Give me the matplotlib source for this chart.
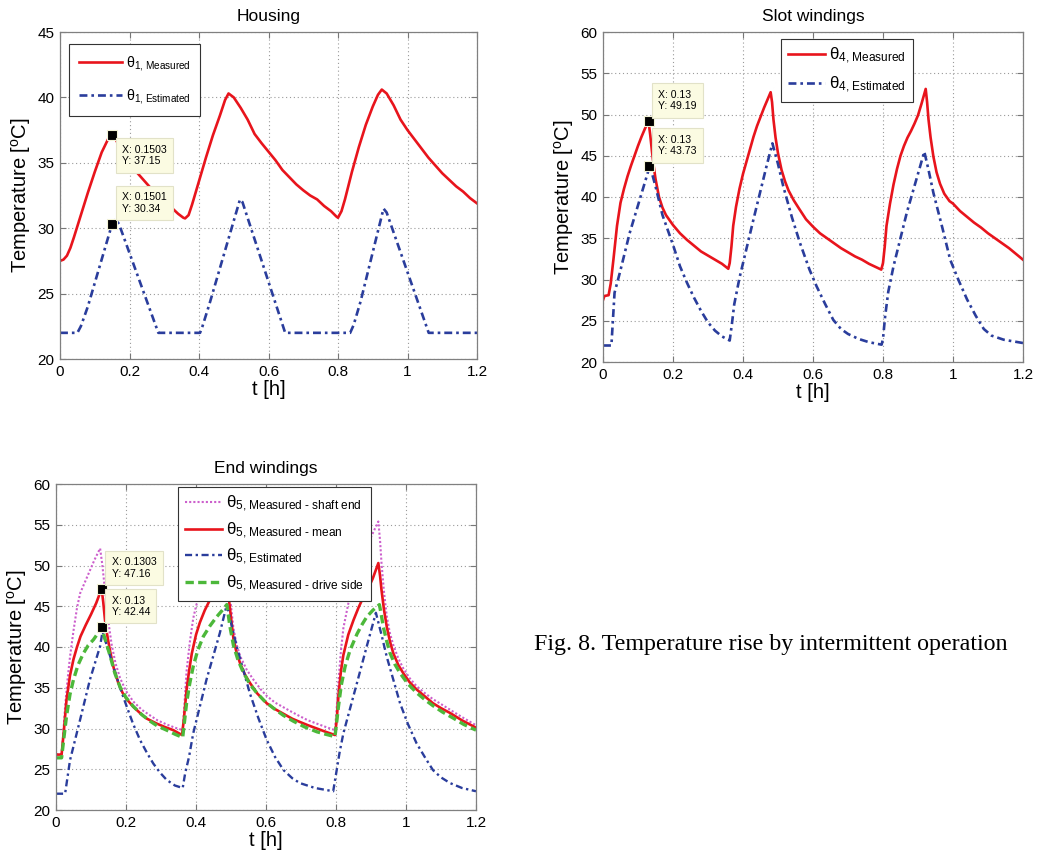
import matplotlib
matplotlib.use("Agg")
import matplotlib.pyplot as plt
from matplotlib.ticker import FuncFormatter

plt.rcParams['font.family'] = ['Liberation Sans', 'DejaVu Sans']
plt.rcParams['mathtext.fontset'] = 'custom'
plt.rcParams['mathtext.rm'] = 'Liberation Sans'
plt.rcParams['mathtext.it'] = 'Liberation Sans:italic'
plt.rcParams['mathtext.bf'] = 'Liberation Sans:bold'

# ---------------- data ----------------
# Housing
h_meas_t = [0, 0.01, 0.02, 0.03, 0.04, 0.06, 0.08, 0.10, 0.12, 0.14, 0.1503,
            0.16, 0.18, 0.20, 0.22, 0.24, 0.26, 0.28, 0.30, 0.32, 0.34, 0.355, 0.36,
            0.37, 0.38, 0.40, 0.42, 0.44, 0.46, 0.475, 0.485,
            0.50, 0.52, 0.54, 0.56, 0.58, 0.60, 0.62, 0.64, 0.66, 0.68, 0.70, 0.72, 0.74, 0.76, 0.78,
            0.795, 0.80, 0.81, 0.82, 0.84, 0.86, 0.88, 0.90, 0.915, 0.926,
            0.94, 0.96, 0.98, 1.0, 1.02, 1.04, 1.06, 1.08, 1.10, 1.12, 1.14, 1.16, 1.18, 1.2]
h_meas_v = [27.5, 27.6, 27.9, 28.5, 29.3, 31.0, 32.7, 34.3, 35.8, 36.9, 37.15,
            36.8, 35.8, 35.0, 34.3, 33.7, 33.1, 32.5, 32.0, 31.6, 31.1, 30.8, 30.75,
            31.0, 31.8, 33.6, 35.4, 37.1, 38.6, 39.8, 40.3,
            40.0, 39.2, 38.3, 37.2, 36.5, 35.85, 35.2, 34.45, 33.9, 33.35, 32.9, 32.5, 32.2, 31.7, 31.3,
            30.9, 30.8, 31.3, 32.2, 34.3, 36.2, 37.9, 39.3, 40.2, 40.6,
            40.3, 39.4, 38.3, 37.5, 36.8, 36.1, 35.4, 34.8, 34.2, 33.7, 33.2, 32.8, 32.3, 31.9]
h_est_t = [0, 0.05, 0.06, 0.08, 0.1501, 0.16, 0.17, 0.283, 0.403, 0.41, 0.43, 0.518, 0.525, 0.648,
           0.835, 0.845, 0.865, 0.931, 0.94, 1.061, 1.2]
h_est_v = [22, 22, 22.5, 24.0, 30.34, 30.7, 30.3, 22, 22, 22.5, 24.2, 32.2, 32.0, 22,
           22, 22.6, 24.4, 31.5, 31.2, 22, 22]

# Slot windings
s_meas_t = [0, 0.004, 0.016, 0.022, 0.03, 0.04, 0.05, 0.06, 0.07, 0.08, 0.09, 0.10, 0.11, 0.12, 0.13,
            0.135, 0.14, 0.145, 0.15, 0.16, 0.17, 0.18, 0.19, 0.20, 0.22, 0.24, 0.26, 0.28, 0.30,
            0.32, 0.34, 0.358,
            0.362, 0.367, 0.372, 0.38, 0.39, 0.40, 0.41, 0.42, 0.43, 0.44, 0.45, 0.46, 0.47, 0.479,
            0.483, 0.487, 0.493, 0.50, 0.51, 0.52, 0.53, 0.545, 0.56, 0.58, 0.60, 0.62, 0.64, 0.66,
            0.68, 0.70, 0.72, 0.74, 0.76, 0.78, 0.795,
            0.80, 0.805, 0.81, 0.82, 0.83, 0.84, 0.85, 0.86, 0.87, 0.88, 0.89, 0.90, 0.91, 0.922,
            0.926, 0.93, 0.936, 0.944, 0.953, 0.963, 0.975, 0.99, 1.0, 1.02, 1.04, 1.06, 1.08, 1.10,
            1.12, 1.14, 1.16, 1.18, 1.2]
s_meas_v = [27.5, 28.0, 28.1, 29.5, 32.5, 36.5, 39.3, 41.0, 42.5, 43.8, 45.0, 46.2, 47.3, 48.3, 49.19,
            47.5, 45.5, 43.7, 42.2, 40.0, 38.7, 37.8, 37.2, 36.6, 35.6, 34.8, 34.1, 33.4, 32.9,
            32.4, 31.9, 31.3,
            32.0, 34.0, 36.5, 38.8, 41.0, 42.8, 44.3, 45.8, 47.3, 48.6, 49.7, 50.8, 51.8, 52.7,
            51.5, 49.4, 47.2, 45.3, 43.3, 41.9, 40.8, 39.6, 38.6, 37.3, 36.4, 35.6, 35.0, 34.4,
            33.8, 33.3, 32.8, 32.4, 31.9, 31.5, 31.2,
            32.0, 34.0, 36.5, 39.2, 41.5, 43.4, 45.0, 46.2, 47.2, 48.0, 48.9, 49.9, 51.3, 53.1,
            51.5, 49.4, 47.2, 44.9, 43.0, 41.6, 40.4, 39.5, 39.2, 38.3, 37.6, 36.9, 36.3, 35.6,
            35.0, 34.4, 33.8, 33.1, 32.4]
s_est_t = [0, 0.024, 0.033, 0.048, 0.076, 0.105, 0.134, 0.15, 0.17, 0.2, 0.22, 0.24, 0.26, 0.28,
           0.30, 0.32, 0.34, 0.362,
           0.368, 0.375, 0.39, 0.43, 0.467, 0.484, 0.50, 0.515, 0.54, 0.563, 0.59, 0.61, 0.635,
           0.658, 0.68, 0.70, 0.73, 0.76, 0.796,
           0.80, 0.806, 0.815, 0.83, 0.868, 0.906, 0.918, 0.93, 0.944, 0.97, 0.992, 1.015, 1.04,
           1.065, 1.088, 1.11, 1.145, 1.2]
s_est_v = [22, 22, 28.4, 30.8, 35.6, 39.7, 43.8, 41.3, 37.8, 34.2, 31.6, 29.6, 27.8, 26.2,
           24.8, 23.8, 23.1, 22.6,
           24.5, 27.0, 30.2, 37.3, 43.7, 46.5, 44.0, 41.3, 37.5, 34.4, 31.2, 29.2, 27.0,
           25.1, 24.0, 23.4, 22.8, 22.4, 22.1,
           22.8, 25.5, 28.5, 31.6, 38.1, 43.7, 45.5, 43.3, 40.5, 36.2, 32.4, 30.0, 27.6,
           25.6, 24.0, 23.2, 22.7, 22.3]

# End windings
e_shaft_t = [0, 0.016, 0.021, 0.026, 0.033, 0.04, 0.05, 0.06, 0.069, 0.083, 0.097, 0.11, 0.126,
             0.132, 0.14, 0.15, 0.159, 0.17, 0.183, 0.2, 0.221, 0.245, 0.269, 0.29, 0.316, 0.34, 0.362,
             0.367, 0.373, 0.382, 0.392, 0.40, 0.411, 0.43, 0.45, 0.482,
             0.49, 0.495, 0.507, 0.516, 0.526, 0.545, 0.564, 0.585, 0.602, 0.625, 0.65, 0.675, 0.697,
             0.72, 0.745, 0.77, 0.797,
             0.802, 0.807, 0.814, 0.821, 0.835, 0.85, 0.865, 0.878, 0.9, 0.921,
             0.926, 0.93, 0.937, 0.945, 0.954, 0.964, 0.978, 0.992, 1.01, 1.03, 1.055, 1.077, 1.1,
             1.126, 1.16, 1.2]
e_shaft_v = [26.8, 26.9, 29.5, 32.7, 36.0, 38.8, 42.0, 44.8, 46.6, 48.0, 49.4, 50.7, 52.1,
             50.2, 47.0, 43.0, 40.3, 38.0, 36.2, 34.6, 33.3, 32.3, 31.6, 31.0, 30.5, 30.1, 29.8,
             33.0, 37.0, 40.5, 43.5, 45.0, 46.6, 48.5, 50.3, 53.5,
             50.0, 47.0, 42.3, 40.3, 38.9, 37.2, 36.0, 34.8, 34.0, 33.2, 32.6, 32.0, 31.5,
             31.0, 30.6, 30.2, 29.8,
             32.5, 35.8, 39.5, 42.3, 45.3, 47.5, 49.6, 51.2, 53.5, 55.4,
             53.0, 50.3, 46.8, 43.8, 41.7, 40.2, 38.6, 37.4, 36.2, 35.2, 34.3, 33.6, 33.0,
             32.3, 31.4, 30.4]
e_mean_t = [0, 0.016, 0.022, 0.03, 0.04, 0.05, 0.06, 0.07, 0.085, 0.10, 0.115, 0.1303,
            0.135, 0.14, 0.147, 0.154, 0.165, 0.178, 0.19, 0.202, 0.22, 0.24, 0.26, 0.288, 0.31,
            0.335, 0.36,
            0.365, 0.373, 0.38, 0.388, 0.40, 0.411, 0.425, 0.44, 0.46, 0.485,
            0.495, 0.507, 0.516, 0.526, 0.54, 0.554, 0.575, 0.602, 0.625, 0.65, 0.675, 0.697, 0.72,
            0.745, 0.77, 0.797,
            0.802, 0.807, 0.814, 0.821, 0.835, 0.85, 0.865, 0.878, 0.89, 0.905, 0.921,
            0.926, 0.93, 0.937, 0.945, 0.954, 0.964, 0.978, 0.992, 1.01, 1.03, 1.055, 1.077, 1.1,
            1.126, 1.16, 1.2]
e_mean_v = [26.8, 26.8, 29.5, 33.5, 36.5, 38.5, 40.0, 41.3, 42.7, 44.0, 45.4, 47.16,
            45.5, 43.3, 41.3, 39.6, 37.4, 35.6, 34.4, 33.6, 32.7, 31.9, 31.2, 30.6, 30.2,
            29.8, 29.2,
            31.0, 34.7, 37.0, 39.2, 41.5, 43.0, 44.5, 45.8, 47.0, 48.8,
            45.5, 41.0, 39.3, 38.0, 36.6, 35.6, 34.3, 33.1, 32.4, 31.8, 31.2, 30.8, 30.4,
            30.0, 29.6, 29.2,
            31.0, 34.0, 37.0, 39.0, 41.5, 43.3, 44.9, 46.1, 47.0, 48.4, 50.3,
            48.7, 47.0, 44.6, 42.5, 40.7, 39.2, 37.8, 36.8, 35.7, 34.8, 33.9, 33.1, 32.5,
            31.9, 31.0, 30.1]
e_est_t = [0, 0.026, 0.04, 0.069, 0.097, 0.126, 0.133, 0.145, 0.164, 0.183, 0.202, 0.22, 0.24,
           0.26, 0.278, 0.297, 0.316, 0.34, 0.362,
           0.369, 0.38, 0.392, 0.43, 0.468, 0.488, 0.50, 0.516, 0.535, 0.554, 0.578, 0.602,
           0.626, 0.65, 0.675, 0.697, 0.74, 0.792,
           0.802, 0.81, 0.821, 0.86, 0.888, 0.914, 0.93, 0.945, 0.965, 0.983, 1.005, 1.03,
           1.055, 1.077, 1.1, 1.126, 1.16, 1.2]
e_est_v = [22, 22, 26.1, 31.1, 36.0, 40.1, 41.9, 40.2, 37.6, 35.0, 32.7, 30.6, 28.6,
           27.0, 25.7, 24.6, 23.7, 23.0, 22.7,
           24.5, 26.5, 29.4, 36.0, 41.7, 45.2, 43.0, 40.1, 37.2, 34.3, 31.3, 28.6,
           26.5, 24.9, 23.9, 23.3, 22.7, 22.3,
           24.9, 27.0, 29.4, 35.6, 40.1, 44.2, 41.5, 38.8, 35.8, 33.1, 30.6, 28.2,
           26.4, 24.9, 24.0, 23.3, 22.7, 22.3]
e_drive_t = [0, 0.016, 0.023, 0.03, 0.04, 0.05, 0.063, 0.078, 0.092, 0.107, 0.12, 0.13,
             0.14, 0.154, 0.168, 0.183, 0.2, 0.221, 0.245, 0.269, 0.29, 0.316, 0.34, 0.362,
             0.367, 0.373, 0.382, 0.392, 0.405, 0.421, 0.44, 0.459, 0.475, 0.488,
             0.497, 0.507, 0.52, 0.535, 0.553, 0.573, 0.595, 0.621, 0.65, 0.678, 0.71, 0.745, 0.77,
             0.797,
             0.802, 0.807, 0.815, 0.826, 0.84, 0.86, 0.875, 0.888, 0.905, 0.924,
             0.93, 0.935, 0.945, 0.954, 0.968, 0.983, 1.005, 1.03, 1.055, 1.077, 1.105, 1.134,
             1.165, 1.2]
e_drive_v = [26.4, 26.4, 29.0, 31.5, 34.2, 36.0, 37.8, 39.2, 40.2, 40.9, 41.7, 42.44,
             41.0, 39.0, 36.8, 35.1, 33.8, 32.7, 31.7, 30.9, 30.3, 29.8, 29.3, 28.9,
             30.8, 33.1, 35.5, 37.6, 39.6, 41.3, 42.6, 43.7, 44.5, 45.2,
             42.5, 40.2, 38.4, 36.9, 35.5, 34.4, 33.4, 32.5, 31.6, 30.9, 30.2, 29.6, 29.3,
             29.0,
             30.8, 32.7, 35.3, 37.6, 39.6, 41.6, 42.8, 43.7, 44.5, 45.2,
             43.8, 42.5, 40.7, 39.3, 37.9, 36.8, 35.5, 34.4, 33.5, 32.8, 32.0, 31.3,
             30.5, 29.8]

# data tips: (x, y, direction) direction +1 => box above-right, -1 => below-right
h_tips = [(0.1503, 37.15, -1), (0.1501, 30.34, +1)]
s_tips = [(0.13, 49.19, +1), (0.13, 43.73, +1)]
e_tips = [(0.1303, 47.16, +1), (0.13, 42.44, +1)]

x_ticks = [0, 0.2, 0.4, 0.6, 0.8, 1.0, 1.2]

# ---------------- styling ----------------
RED = '#e8141c'
BLUE = '#2a3d9c'
GREEN = '#4cb83a'
PINK = '#cc5fcc'
DASHDOT = (0, (3, 1.5, 1, 1.5))

fig = plt.figure(figsize=(10.37, 8.59), dpi=100)
W, H = 1037, 859


def make_ax(left, right, top, bottom):
    return fig.add_axes([left / W, 1 - bottom / H, (right - left) / W, (bottom - top) / H])


def style(ax, ymax, title):
    ax.set_xlim(0, 1.2)
    ax.set_ylim(20, ymax)
    ax.set_xticks(x_ticks)
    ax.set_yticks(list(range(20, ymax + 1, 5)))
    ax.xaxis.set_major_formatter(FuncFormatter(lambda v, p: f'{v:g}'))
    ax.grid(True, linestyle=(0, (1, 2.5)), color='#9a9a9a', linewidth=0.8)
    ax.tick_params(direction='in', top=True, right=True, length=4, width=0.8,
                   color='#777777', labelsize=11, pad=4)
    for sp in ax.spines.values():
        sp.set_color('#808080')
        sp.set_linewidth(0.9)
    ax.set_title(title, fontsize=12.5, pad=8)
    ax.set_xlabel('t [h]', fontsize=14.5, labelpad=1)
    ax.set_ylabel(r'Temperature [$^{\mathrm{o}}$C]', fontsize=14.5, labelpad=3)


def add_tips(ax, tips):
    for x, y, d in tips:
        ax.plot([x], [y], marker='s', ms=6.5, mfc='black', mec='#f4f4d8', mew=0.8,
                zorder=9, linestyle='none')
        ax.annotate(f'X: {x:g}\nY: {y:.2f}', xy=(x, y), xytext=(10, 10 * d),
                    textcoords='offset pixels', ha='left',
                    va='bottom' if d > 0 else 'top', fontsize=7.6, linespacing=1.2,
                    bbox=dict(boxstyle='square,pad=0.6', fc='#fbfbe2', ec='#e2e2c8', lw=0.8),
                    zorder=10)


def make_legend(ax, anchor, fs, hl, ls, bp):
    leg = ax.legend(loc='upper left', bbox_to_anchor=anchor, borderaxespad=0,
                    fontsize=fs, handlelength=hl, labelspacing=ls, fancybox=False,
                    framealpha=1, edgecolor='#333333', borderpad=bp, handletextpad=0.25)
    leg.get_frame().set_linewidth(0.8)


# Housing
ax1 = make_ax(60, 477, 32, 359)
ax1.plot(h_meas_t, h_meas_v, color=RED, lw=1.9, label=r'θ$_\text{1, Measured}$')
ax1.plot(h_est_t, h_est_v, color=BLUE, lw=1.9, linestyle=DASHDOT, label=r'θ$_\text{1, Estimated}$')
style(ax1, 45, 'Housing')
make_legend(ax1, (0.0216, 0.963), 10.3, 3.0, 0.95, 0.7)
add_tips(ax1, h_tips)

# Slot windings
ax2 = make_ax(603, 1023, 32, 362)
ax2.plot(s_meas_t, s_meas_v, color=RED, lw=1.9, label=r'θ$_\text{4, Measured}$')
ax2.plot(s_est_t, s_est_v, color=BLUE, lw=1.9, linestyle=DASHDOT, label=r'θ$_\text{4, Estimated}$')
style(ax2, 60, 'Slot windings')
make_legend(ax2, (0.424, 0.979), 12.2, 2.2, 0.5, 0.4)
add_tips(ax2, s_tips)

# End windings
ax3 = make_ax(56, 476, 484, 810)
ax3.plot(e_shaft_t, e_shaft_v, color=PINK, lw=1.5, linestyle=(0, (1, 1)),
         label=r'θ$_\text{5, Measured - shaft end}$')
ax3.plot(e_mean_t, e_mean_v, color=RED, lw=1.9, label=r'θ$_\text{5, Measured - mean}$')
ax3.plot(e_est_t, e_est_v, color=BLUE, lw=1.7, linestyle=DASHDOT, label=r'θ$_\text{5, Estimated}$')
ax3.plot(e_drive_t, e_drive_v, color=GREEN, lw=2.4, linestyle=(0, (2.5, 1.3)),
         label=r'θ$_\text{5, Measured - drive side}$')
style(ax3, 60, 'End windings')
make_legend(ax3, (0.29, 0.991), 12.2, 2.2, 0.38, 0.4)
add_tips(ax3, e_tips)

fig.text(534 / W, 1 - 650 / H, 'Fig. 8. Temperature rise by intermittent operation',
         fontfamily='Liberation Serif', fontsize=17.3, va='baseline', ha='left')

fig.savefig('out.png', dpi=100)
